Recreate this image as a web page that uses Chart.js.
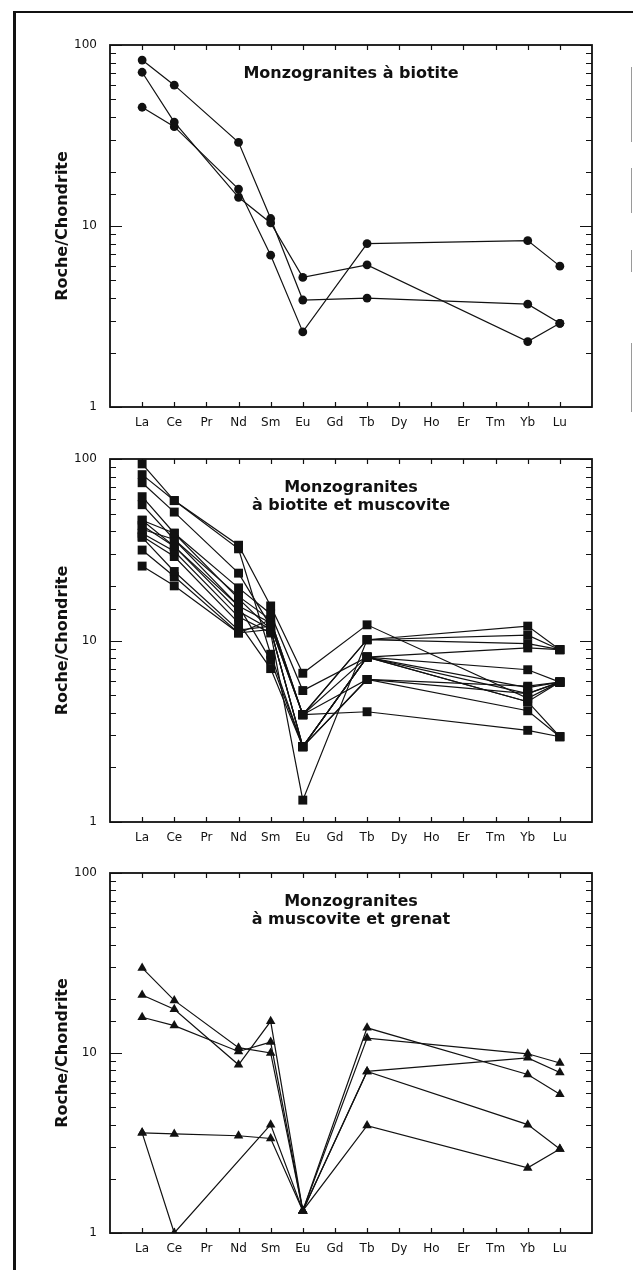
<!DOCTYPE html>
<html lang="fr">
<head>
<meta charset="utf-8">
<script src="https://cdn.jsdelivr.net/npm/chart.js@4.4.1/dist/chart.umd.min.js"></script>
<style>
  html, body { margin: 0; padding: 0; background: #fff; }
  body { width: 633px; height: 1270px; position: relative; overflow: hidden; }
  .frame-left { position: absolute; left: 13px; top: 11px; width: 3px; height: 1259px; background: #111; }
  .frame-top { position: absolute; left: 13px; top: 11px; width: 620px; height: 2px; background: #111; }
  .edge { position: absolute; left: 631px; width: 1px; background: #9a9a9a; }
  canvas { position: absolute; left: 0; }
</style>
</head>
<body>
<div class="frame-left"></div>
<div class="frame-top"></div>
<div class="edge" style="top:67px;height:75px"></div>
<div class="edge" style="top:168px;height:45px"></div>
<div class="edge" style="top:250px;height:22px"></div>
<div class="edge" style="top:343px;height:69px"></div>

<canvas id="bio" width="633" height="432" style="top:10px;width:633px;height:432px"></canvas>
<canvas id="biomus" width="633" height="433" style="top:424px;width:633px;height:433px"></canvas>
<canvas id="musgr" width="633" height="430" style="top:838px;width:633px;height:430px"></canvas>

<script>
// Terres rares, axe des abscisses
const elements = ['La', 'Ce', 'Pr', 'Nd', 'Sm', 'Eu', 'Gd', 'Tb', 'Dy', 'Ho', 'Er', 'Tm', 'Yb', 'Lu'];
// Elements dosés (ordre des valeurs dans chaque échantillon)
const analysed = ['La', 'Ce', 'Nd', 'Sm', 'Eu', 'Tb', 'Yb', 'Lu'];
const decades = [1, 10, 100];

// Monzogranites à biotite
const bio1 = [82.6, 60, 29, 11, 3.9, 4.0, 3.7, 2.9];
const bio2 = [70.7, 37.5, 14.4, 10.4, 5.2, 6.1, 2.3, 2.9];
const bio3 = [45.3, 35.4, 16, 6.9, 2.6, 8.0, 8.3, 6.0];

// Monzogranites à biotite et muscovite
const bm1 = [94, 59, 33.5, 15.5, 6.6, 12.2, 4.8, 5.9];
const bm2 = [82, 59, 32, 8.4, 2.6, 8.1, 9.1, 8.9];
const bm3 = [74, 51, 23.5, 12, 3.9, 10.1, 12, 8.9];
const bm4 = [62, 39, 19.5, 14, 5.3, 8.1, 6.9, 5.9];
const bm5 = [56, 36, 17.5, 13, 3.9, 4.05, 3.2, 2.95];
const bm6 = [46, 39, 17, 11.5, 2.6, 8.1, 5.5, 5.9];
const bm7 = [43, 33, 15.5, 12.5, 3.9, 6.1, 4.1, 2.95];
const bm8 = [41, 36, 15.5, 7.8, 2.6, 8.1, 4.6, 5.9];
const bm9 = [39, 31, 13.5, 11, 1.32, 10.1, 10.7, 8.9];
const bm10 = [37.5, 29, 12.5, 7, 2.6, 6.1, 5.1, 5.9];
const bm11 = [37, 24, 11.4, 12, 3.9, 8.1, 4.6, 2.95];
const bm12 = [31.5, 22.5, 11, 11.5, 2.6, 6.1, 5.6, 5.9];
const bm13 = [25.7, 20, 11, 13, 3.9, 10.1, 9.6, 8.9];
const bm14 = [46, 33, 14.5, 11.5, 2.6, 8.1, 5.1, 5.9];

// Monzogranites à muscovite et grenat (Nd non dosé pour mg5)
const mg1 = [29.7, 19.6, 10.7, 10, 1.33, 13.8, 7.6, 5.9];
const mg2 = [21, 17.5, 8.6, 15, 1.33, 12.1, 9.9, 8.8];
const mg3 = [15.8, 14.2, 10.2, 11.5, 1.33, 7.9, 9.4, 7.8];
const mg4 = [3.6, 3.55, 3.47, 3.35, 1.33, 7.9, 4.0, 2.93];
const mg5 = [3.6, 1.0, null, 4.0, 1.33, 3.95, 2.3, 2.93];

const FONT = "'DejaVu Sans', 'Liberation Sans', Arial, sans-serif";
const INK = '#111';

function toPoints(values) {
  return analysed
    .map((el, i) => values[i] == null ? null : { x: elements.indexOf(el) + 1, y: values[i] })
    .filter(Boolean);
}

// cadre, graduations intérieures et titre du diagramme
const panelFrame = {
  id: 'panelFrame',
  afterDraw(chart, args, opts) {
    const { ctx, chartArea: { left, right, top, bottom }, scales: { x, y } } = chart;
    ctx.save();
    ctx.strokeStyle = INK;
    ctx.lineWidth = 1.2;
    ctx.beginPath();
    y.ticks.forEach(t => {
      const py = Math.round(y.getPixelForValue(t.value)) + 0.5;
      const len = decades.includes(t.value) ? 12 : 6;
      ctx.moveTo(left, py); ctx.lineTo(left + len, py);
      ctx.moveTo(right, py); ctx.lineTo(right - len, py);
    });
    x.ticks.forEach(t => {
      if (t.value < 1 || t.value > elements.length) return;
      const px = Math.round(x.getPixelForValue(t.value)) + 0.5;
      ctx.moveTo(px, bottom); ctx.lineTo(px, bottom - 5);
      ctx.moveTo(px, top); ctx.lineTo(px, top + 5);
    });
    ctx.stroke();
    ctx.lineWidth = 1.8;
    ctx.strokeRect(left, top, right - left, bottom - top);

    ctx.fillStyle = INK;
    ctx.font = `bold 16px ${FONT}`;
    ctx.textAlign = 'center';
    ctx.textBaseline = 'middle';
    (opts.lines || []).forEach((line, i) => {
      ctx.fillText(line, (left + right) / 2, top + 29 + i * 18);
    });
    ctx.restore();
  }
};

function drawPanel(id, samples, pointStyle, radius, titleLines) {
  new Chart(document.getElementById(id), {
    type: 'line',
    data: {
      datasets: samples.map(s => ({
        data: toPoints(s),
        borderColor: INK,
        borderWidth: 1.2,
        backgroundColor: INK,
        pointBackgroundColor: INK,
        pointBorderColor: INK,
        pointBorderWidth: 0,
        pointStyle: pointStyle,
        pointRadius: radius,
        tension: 0,
        fill: false
      }))
    },
    options: {
      responsive: false,
      animation: false,
      devicePixelRatio: 1,
      layout: { padding: { top: 35, right: 41, bottom: 0, left: 0 } },
      scales: {
        x: {
          type: 'linear',
          min: 0,
          max: 15,
          grid: { display: false, drawTicks: false },
          border: { display: false },
          ticks: {
            stepSize: 1,
            maxTicksLimit: 20,
            autoSkip: false,
            maxRotation: 0,
            padding: 9,
            color: INK,
            font: { family: FONT, size: 12 },
            callback: v => elements[v - 1] || ''
          },
          afterFit: s => { s.height = 35; }
        },
        y: {
          type: 'logarithmic',
          min: 1,
          max: 100,
          grid: { display: false, drawTicks: false },
          border: { display: false },
          ticks: {
            autoSkip: false,
            padding: 13,
            color: INK,
            font: { family: FONT, size: 12 },
            callback: v => decades.includes(v) ? String(v) : ''
          },
          title: {
            display: true,
            text: 'Roche/Chondrite',
            color: INK,
            font: { family: FONT, size: 16, weight: 'bold' },
            padding: { top: 53, bottom: 0 }
          },
          afterFit: s => { s.width = 110; }
        }
      },
      plugins: {
        legend: { display: false },
        tooltip: { enabled: false },
        panelFrame: { lines: titleLines }
      }
    },
    plugins: [panelFrame]
  });
}

drawPanel('bio', [bio1, bio2, bio3], 'circle', 4.4, ['Monzogranites à biotite']);
drawPanel('biomus', [bm1, bm2, bm3, bm4, bm5, bm6, bm7, bm8, bm9, bm10, bm11, bm12, bm13, bm14],
  'rect', 6.3, ['Monzogranites', 'à biotite et muscovite']);
drawPanel('musgr', [mg1, mg2, mg3, mg4, mg5], 'triangle', 5.5, ['Monzogranites', 'à muscovite et grenat']);
</script>
</body>
</html>
